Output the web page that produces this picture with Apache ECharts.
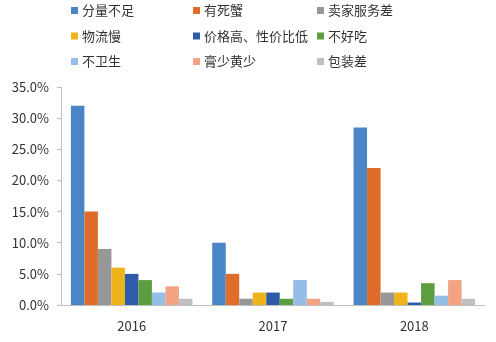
<!DOCTYPE html>
<html>
<head>
<meta charset="utf-8">
<script src="https://cdn.jsdelivr.net/npm/echarts@6/dist/echarts.min.js"></script>
<style>
  html, body { margin: 0; padding: 0; background: #fff; }
  #chart { width: 496px; height: 342px; }
</style>
</head>
<body>
<div id="chart"></div>
<script>
// Years on the category axis
const years = ['2016', '2017', '2018'];

// Complaint types (share of negative reviews, %)
const seriesNames = ['分量不足', '有死蟹', '卖家服务差', '物流慢', '价格高、性价比低', '不好吃', '不卫生', '膏少黄少', '包装差'];
const 分量不足 = [32, 10, 28.5];
const 有死蟹 = [15, 5, 22];
const 卖家服务差 = [9, 1, 2];
const 物流慢 = [6, 2, 2];
const 价格高性价比低 = [5, 2, 0.4];
const 不好吃 = [4, 1, 3.5];
const 不卫生 = [2, 4, 1.5];
const 膏少黄少 = [3, 1, 4];
const 包装差 = [1, 0.5, 1];
const seriesValues = [分量不足, 有死蟹, 卖家服务差, 物流慢, 价格高性价比低, 不好吃, 不卫生, 膏少黄少, 包装差];

// Y axis range (%)
const yMin = 0, yMax = 35, yStep = 5;

const colors = ['#4a86c6', '#e06c2a', '#979797', '#efb31b', '#2f5ca8', '#5c9d3f', '#94bde8', '#f2a384', '#c0c0c0'];

const chart = echarts.init(document.getElementById('chart'), null, { renderer: 'canvas' });

const font = '"Microsoft YaHei", "Noto Sans CJK SC", sans-serif';

// Legend laid out as three columns of three
const legendCols = [0, 1, 2].map(c => ({
  orient: 'vertical',
  left: [66, 188, 312][c],
  top: -1,
  itemWidth: 7,
  itemHeight: 7,
  itemGap: 12.5,
  icon: 'rect',
  textStyle: { fontSize: 13, color: '#333', fontFamily: font, padding: [0, 0, 0, -1] },
  data: [seriesNames[c], seriesNames[c + 3], seriesNames[c + 6]]
}));

chart.setOption({
  animation: false,
  color: colors,
  legend: legendCols,
  grid: { left: 61, right: 11, top: 87, bottom: 37, containLabel: false },
  xAxis: {
    type: 'category',
    data: years,
    axisLine: { lineStyle: { color: '#bfbfbf' } },
    axisTick: { show: false },
    axisLabel: { fontSize: 13, color: '#333', margin: 15, fontFamily: font }
  },
  yAxis: {
    type: 'value',
    min: yMin,
    max: yMax,
    interval: yStep,
    axisLine: { show: true, lineStyle: { color: '#bfbfbf' } },
    axisTick: { show: true, length: 4, lineStyle: { color: '#bfbfbf' } },
    splitLine: { show: false },
    axisLabel: {
      fontSize: 13, color: '#333', margin: 12, fontFamily: font,
      formatter: v => v.toFixed(1) + '%'
    }
  },
  series: seriesNames.map((name, i) => ({
    name,
    type: 'bar',
    data: seriesValues[i],
    barGap: '0%',
    barCategoryGap: '14%',
    itemStyle: { color: colors[i] }
  }))
});
</script>
</body>
</html>
